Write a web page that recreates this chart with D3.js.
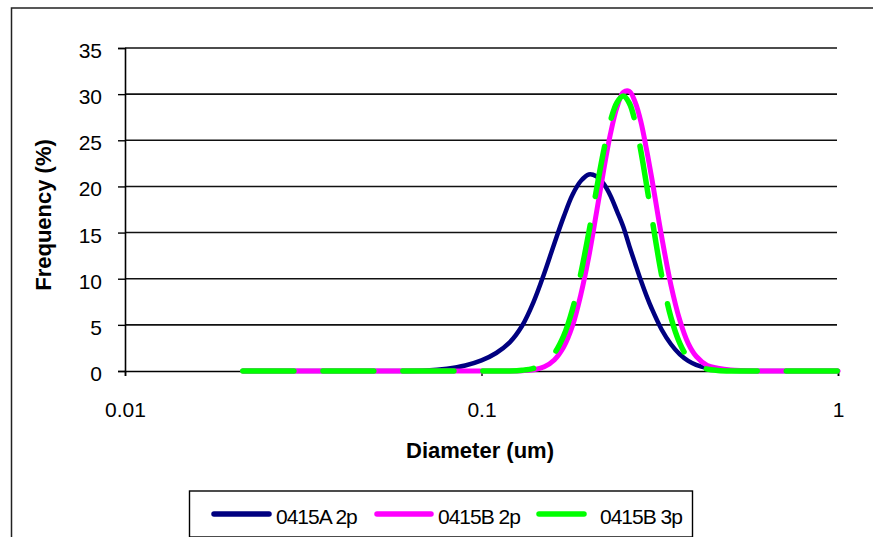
<!DOCTYPE html>
<html><head><meta charset="utf-8">
<script src="https://cdn.jsdelivr.net/npm/d3@7"></script>
<style>html,body{margin:0;padding:0;background:#fff;}svg{display:block;}</style>
</head><body>
<svg id="chart" width="873" height="537"></svg>
<script>
const diameters = [0.0214, 0.03, 0.04, 0.05, 0.06, 0.07, 0.08, 0.09, 0.10, 0.11, 0.12, 0.13, 0.14, 0.15, 0.16, 0.17, 0.18, 0.19, 0.20, 0.21, 0.22, 0.23, 0.24, 0.25, 0.26, 0.27, 0.28, 0.29, 0.30, 0.32, 0.34, 0.36, 0.38, 0.40, 0.43, 0.46, 0.50, 0.60, 0.70, 0.80, 0.90, 1.0];
const seriesA2p = [0, 0, 0, 0, 0, 0.05, 0.25, 0.6, 1.15, 1.95, 3.1, 4.9, 7.5, 10.6, 13.8, 16.7, 19.1, 20.6, 21.3, 21.1, 20.3, 19.0, 17.3, 15.6, 13.5, 11.6, 9.8, 8.2, 6.8, 4.5, 2.9, 1.8, 1.1, 0.67, 0.31, 0.14, 0.04, 0, 0, 0, 0, 0];
const seriesB2p = [0, 0, 0, 0, 0, 0, 0, 0, 0, 0, 0, 0.04, 0.14, 0.46, 1.2, 2.6, 4.9, 8.3, 12.4, 17.1, 21.7, 25.7, 28.6, 30.2, 30.3, 29.1, 27.0, 24.1, 21.0, 14.6, 9.3, 5.5, 3.0, 1.6, 0.6, 0.3, 0.1, 0, 0, 0, 0, 0];
const seriesB3p = [0, 0, 0, 0, 0, 0, 0, 0, 0, 0, 0, 0.08, 0.29, 0.82, 1.9, 3.8, 6.7, 10.6, 15.0, 19.6, 23.8, 27.1, 29.1, 29.8, 29.0, 26.9, 23.8, 20.3, 16.8, 10.4, 5.8, 3.0, 1.4, 0.65, 0.2, 0.06, 0, 0, 0, 0, 0, 0];
const seriesNames = ["0415A 2p", "0415B 2p", "0415B 3p"];
const seriesColors = ["#000080", "#ff00ff", "#00ff00"];
const yTicks = [0, 5, 10, 15, 20, 25, 30, 35];
const xTicks = [0.01, 0.1, 1];
const xTickLabels = ["0.01", "0.1", "1"];
const xTitle = "Diameter (um)";
const yTitle = "Frequency (%)";

const svg = d3.select("#chart");
const font = "'Liberation Sans', Arial, sans-serif";

// outer chart border
svg.append("rect").attr("x", 11.5).attr("y", 8).attr("width", 900).attr("height", 600)
  .attr("fill", "none").attr("stroke", "#222").attr("stroke-width", 1.5);

const x = d3.scaleLog().domain([0.01, 1]).range([125, 838]);
const y = d3.scaleLinear().domain([0, 35]).range([371, 48]);

// gridlines
svg.append("g").selectAll("line").data(yTicks.filter(d => d > 0)).join("line")
  .attr("x1", 125).attr("x2", 837).attr("y1", d => y(d)).attr("y2", d => y(d))
  .attr("stroke", "#111").attr("stroke-width", 1.6);

// y axis
const yAxis = svg.append("g").attr("transform", "translate(125,0)")
  .call(d3.axisLeft(y).tickValues(yTicks).tickSize(7).tickPadding(16).tickFormat(d3.format("d")));
yAxis.select(".domain").attr("stroke", "#000").attr("stroke-width", 1.6);
yAxis.selectAll(".tick line").attr("stroke", "#000").attr("stroke-width", 1.4);
yAxis.selectAll("text").attr("font-family", font).attr("font-size", 21).attr("fill", "#000").attr("dy", "0.45em");

// x axis
const xAxis = svg.append("g").attr("transform", "translate(0,371)")
  .call(d3.axisBottom(x).tickValues(xTicks).tickSize(5).tickPadding(26)
    .tickFormat((d, i) => xTickLabels[i]));
xAxis.select(".domain").attr("stroke", "#000").attr("stroke-width", 1.6);
xAxis.selectAll(".tick line").attr("stroke", "#000").attr("stroke-width", 1.4);
xAxis.selectAll("text").attr("font-family", font).attr("font-size", 21).attr("fill", "#000");

// titles
svg.append("text").attr("x", 480).attr("y", 458).attr("text-anchor", "middle")
  .attr("font-family", font).attr("font-size", 22).attr("font-weight", "bold").text(xTitle);
svg.append("text").attr("transform", "translate(51,215) rotate(-90)").attr("text-anchor", "middle")
  .attr("font-family", font).attr("font-size", 22).attr("font-weight", "bold").text(yTitle);

// series
const allSeries = [seriesA2p, seriesB2p, seriesB3p];
const line = d3.line().x((d, i) => x(diameters[i])).y(d => y(d)).curve(d3.curveCatmullRom.alpha(0.5));
allSeries.forEach((vals, k) => {
  const p = svg.append("path").datum(vals).attr("d", line)
    .attr("fill", "none").attr("stroke", seriesColors[k])
    .attr("stroke-width", k === 0 ? 4.5 : 5).attr("stroke-linejoin", "round").attr("stroke-linecap", "round");
  if (k === 2) p.attr("stroke-width", 5.5).attr("stroke-dasharray", "51,29");
});

// legend
const lg = svg.append("g");
lg.append("rect").attr("x", 189.5).attr("y", 491).attr("width", 503).attr("height", 46)
  .attr("fill", "#fff").attr("stroke", "#000").attr("stroke-width", 1.4);
const legendItems = [
  {x1: 214, x2: 269, tx: 276},
  {x1: 377, x2: 431, tx: 438},
  {x1: 539, x2: 584, tx: 600}
];
legendItems.forEach((it, k) => {
  lg.append("line").attr("x1", it.x1).attr("x2", it.x2).attr("y1", 514).attr("y2", 514)
    .attr("stroke", seriesColors[k]).attr("stroke-width", 5.5).attr("stroke-linecap", "round");
  lg.append("text").attr("x", it.tx).attr("y", 524).attr("font-family", font).attr("font-size", 21)
    .attr("letter-spacing", -1).attr("fill", "#000").text(seriesNames[k]);
});
</script>
</body></html>
